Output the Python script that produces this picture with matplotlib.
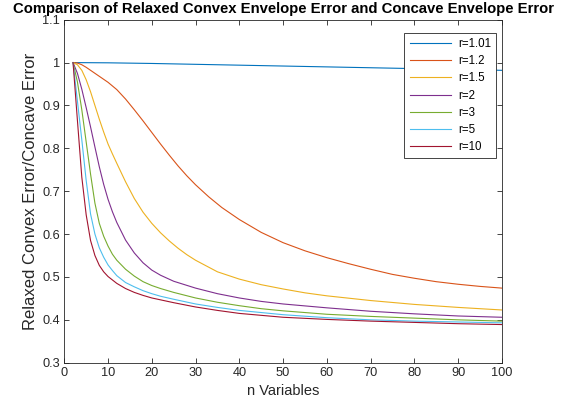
import numpy as np
import matplotlib
matplotlib.use("Agg")
import matplotlib.pyplot as plt
from matplotlib.ticker import FuncFormatter

plt.rcParams['font.family'] = ['Liberation Sans', 'DejaVu Sans']

# values
n_101 = [2, 10, 20, 30, 40, 50, 60, 70, 80, 90, 100]
e_101 = [1.0, 0.9995, 0.998, 0.996, 0.994, 0.992, 0.990, 0.988, 0.986, 0.984, 0.982]

n_12 = [2, 3, 4, 5, 6, 7, 8, 10, 12, 14, 16, 18, 20, 22, 24, 26, 28, 30, 33, 36, 40,
        45, 50, 55, 60, 65, 70, 75, 80, 85, 90, 95, 100]
e_12 = [1.0, 0.999, 0.995, 0.989, 0.982, 0.975, 0.968, 0.954, 0.937, 0.915, 0.890, 0.864,
        0.837, 0.810, 0.784, 0.759, 0.736, 0.715, 0.687, 0.662, 0.634, 0.604, 0.580, 0.561,
        0.545, 0.531, 0.518, 0.506, 0.497, 0.489, 0.483, 0.478, 0.474]

n_15 = [2, 3, 4, 5, 6, 7, 8, 9, 10, 11, 12, 14, 16, 18, 20, 22, 24, 26, 28, 30, 35, 40,
        45, 50, 55, 60, 70, 80, 90, 100]
e_15 = [1.0, 0.995, 0.982, 0.960, 0.932, 0.900, 0.868, 0.838, 0.810, 0.787, 0.765, 0.722,
        0.683, 0.651, 0.625, 0.603, 0.584, 0.567, 0.552, 0.539, 0.512, 0.495, 0.482, 0.472,
        0.463, 0.456, 0.445, 0.436, 0.429, 0.423]

n_2 = [2, 3, 4, 5, 6, 7, 8, 9, 10, 11, 12, 14, 16, 18, 20, 22, 25, 30, 35, 40, 45, 50,
       60, 70, 80, 90, 100]
e_2 = [1.0, 0.975, 0.938, 0.895, 0.850, 0.803, 0.757, 0.716, 0.681, 0.652, 0.627, 0.586,
       0.556, 0.533, 0.516, 0.504, 0.490, 0.474, 0.461, 0.451, 0.443, 0.437, 0.428, 0.420,
       0.414, 0.409, 0.406]

n_3 = [2, 3, 4, 5, 6, 7, 8, 9, 10, 11, 12, 14, 16, 18, 20, 22, 25, 30, 35, 40, 45, 50,
       60, 70, 80, 90, 100]
e_3 = [1.0, 0.955, 0.890, 0.815, 0.740, 0.672, 0.625, 0.595, 0.572, 0.553, 0.539, 0.518,
       0.502, 0.489, 0.480, 0.473, 0.464, 0.451, 0.441, 0.433, 0.426, 0.421, 0.413, 0.408,
       0.404, 0.400, 0.397]

n_5 = [2, 3, 4, 5, 6, 7, 8, 9, 10, 11, 12, 14, 16, 18, 20, 22, 25, 30, 35, 40, 50, 60,
       70, 80, 90, 100]
e_5 = [1.0, 0.910, 0.820, 0.725, 0.647, 0.600, 0.568, 0.546, 0.528, 0.515, 0.503, 0.487,
       0.477, 0.468, 0.461, 0.455, 0.448, 0.437, 0.429, 0.422, 0.412, 0.405, 0.400, 0.397,
       0.395, 0.393]

n_10 = [2, 3, 4, 5, 6, 7, 8, 9, 10, 12, 14, 16, 18, 20, 25, 30, 35, 40, 50, 60, 70, 80,
        90, 100]
e_10 = [1.0, 0.865, 0.733, 0.645, 0.585, 0.550, 0.527, 0.512, 0.501, 0.485, 0.473, 0.464,
        0.457, 0.451, 0.440, 0.430, 0.422, 0.415, 0.406, 0.401, 0.397, 0.394, 0.391, 0.389]

labels = ['r=1.01', 'r=1.2', 'r=1.5', 'r=2', 'r=3', 'r=5', 'r=10']
xs = [n_101, n_12, n_15, n_2, n_3, n_5, n_10]
ys = [e_101, e_12, e_15, e_2, e_3, e_5, e_10]
colors = ['#0072BD', '#D95319', '#EDB120', '#7E2F8E', '#77AC30', '#4DBEEE', '#A2142F']

fig = plt.figure(figsize=(5.69, 4.11), dpi=100)
ax = fig.add_axes([0.113, 0.1175, 0.769, 0.8345])

for n, e, c, lab in zip(xs, ys, colors, labels):
    ax.plot(n, e, color=c, lw=0.8, label=lab)

ax.set_xlim(0, 100)
ax.set_ylim(0.3, 1.1)
ax.set_xticks(np.arange(0, 101, 10))
ax.set_yticks(np.arange(0.3, 1.11, 0.1))
ax.yaxis.set_major_formatter(FuncFormatter(lambda v, p: '%g' % round(v, 2)))
ax.tick_params(direction='in', top=True, right=True, length=3.5, width=0.6,
               labelsize=9.2, colors='#262626', pad=3)
for s in ax.spines.values():
    s.set_linewidth(0.6)
    s.set_color('#262626')

ax.set_xlabel('n Variables', fontsize=10.5, color='#262626', labelpad=4)
ax.set_ylabel('Relaxed Convex Error/Concave Error', fontsize=12, color='#262626', labelpad=3.5)
ax.set_title('Comparison of Relaxed Convex Envelope Error and Concave Envelope Error',
             fontsize=10.7, fontweight='bold', pad=5)

leg = ax.legend(loc='upper right', bbox_to_anchor=(0.987, 0.9615), borderaxespad=0,
                fontsize=8.3, handlelength=3.6, handletextpad=0.6, labelspacing=0.45,
                fancybox=False, framealpha=1, borderpad=0.45)
leg.get_frame().set_edgecolor('#262626')
leg.get_frame().set_linewidth(0.6)

fig.savefig('out.png', dpi=100)
